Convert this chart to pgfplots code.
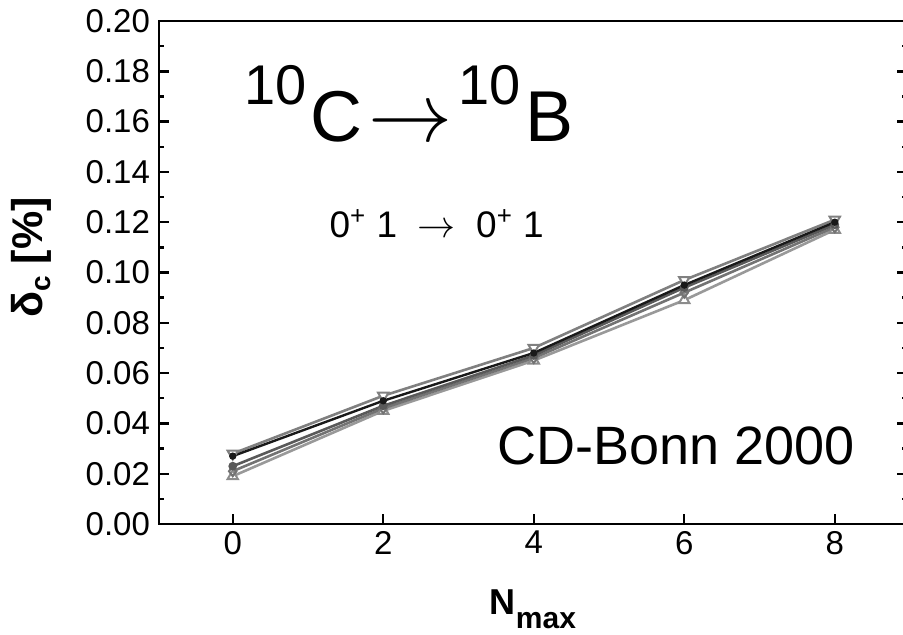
\documentclass[border=0pt]{standalone}
\usepackage{pgfplots}
\pgfplotsset{compat=1.18}
\usepackage{fontspec}
\setmainfont{Liberation Sans}
\newcommand{\arr}[1]{{\fontsize{10}{12}\selectfont\scalebox{#1}{$\rightarrow$}}}
\begin{document}
\begin{tikzpicture}
\begin{axis}[
  name=ax, at={(0,0)}, anchor=south west,
  scale only axis, width=374pt, height=251.5pt,
  xmin=-0.98, xmax=8.96, ymin=0, ymax=0.2,
  xtick={0,2,4,6,8}, ytick={0,0.02,...,0.2},
  minor y tick num=1,
  tick align=inside, major tick length=5pt, minor tick length=2.5pt,
  xtick pos=bottom,
  ytick pos=both,
  axis line style={line width=1.2pt},
  every tick/.style={line width=1.2pt, black},
  /pgf/number format/assume math mode=true,
  /pgf/number format/.cd, fixed, fixed zerofill, precision=2, /pgfplots/.cd,
  xticklabel={\pgfmathprintnumber[fixed,precision=0]{\tick}},
  ticklabel style={font=\fontsize{16.5}{19}\selectfont},
  yticklabel style={xshift=-1pt},
  xlabel={\textbf{N\raisebox{-7pt}{\fontsize{15}{17}\selectfont max}}},
  xlabel style={font=\fontsize{18}{21}\selectfont, at={(axis description cs:0.5,0)}, anchor=base, yshift=-45pt},
  ylabel={\textbf{δ\raisebox{-0.35ex}{\fontsize{14}{16}\selectfont c} [\%]}},
  ylabel style={font=\fontsize{21.5}{25}\selectfont, at={(axis description cs:-0.17,0.53)}, anchor=center},
]
\addplot[color=black!40, line width=1.3pt, mark=triangle*, mark size=3pt, mark options={fill=white, draw=black!45, line width=1pt}]
  coordinates {(0,0.019) (2,0.045) (4,0.065) (6,0.089) (8,0.117)};
\addplot[color=black!55, line width=1.3pt, mark=diamond, mark size=2.5pt, mark options={line width=1pt}]
  coordinates {(0,0.021) (2,0.046) (4,0.066) (6,0.092) (8,0.118)};
\addplot[color=black!65, line width=1.3pt, mark=*, mark size=1.5pt]
  coordinates {(0,0.023) (2,0.047) (4,0.067) (6,0.094) (8,0.119)};
\addplot[color=black!50, line width=1.3pt, mark=triangle*, mark size=3pt, mark options={rotate=180, fill=white, draw=black!50, line width=1pt}]
  coordinates {(0,0.028) (2,0.051) (4,0.070) (6,0.097) (8,0.121)};
\addplot[color=black!90, line width=1.2pt, mark=*, mark size=1.2pt]
  coordinates {(0,0.027) (2,0.049) (4,0.068) (6,0.095) (8,0.120)};
\node[anchor=base, inner sep=0pt] at (axis cs:2.34,0.152) {\fontsize{36}{42}\selectfont \raisebox{18.5pt}{\fontsize{28}{32}\selectfont 10}\kern2pt C\kern3pt\arr{4.2}\kern3pt\raisebox{18.5pt}{\fontsize{28}{32}\selectfont 10}\kern2pt B};
\node[anchor=base, inner sep=0pt] at (axis cs:2.71,0.114) {\fontsize{18.5}{22}\selectfont 0\textsuperscript{+}\ 1\ \ \arr{1.9}\ \ 0\textsuperscript{+}\ 1};
\node[anchor=base, inner sep=0pt] at (axis cs:5.89,0.0235) {\fontsize{27}{32}\selectfont CD-Bonn 2000};
\end{axis}
\pgfresetboundingbox
\path[use as bounding box] (-79.5pt,-55pt) rectangle (372pt,262pt);
\end{tikzpicture}
\end{document}
